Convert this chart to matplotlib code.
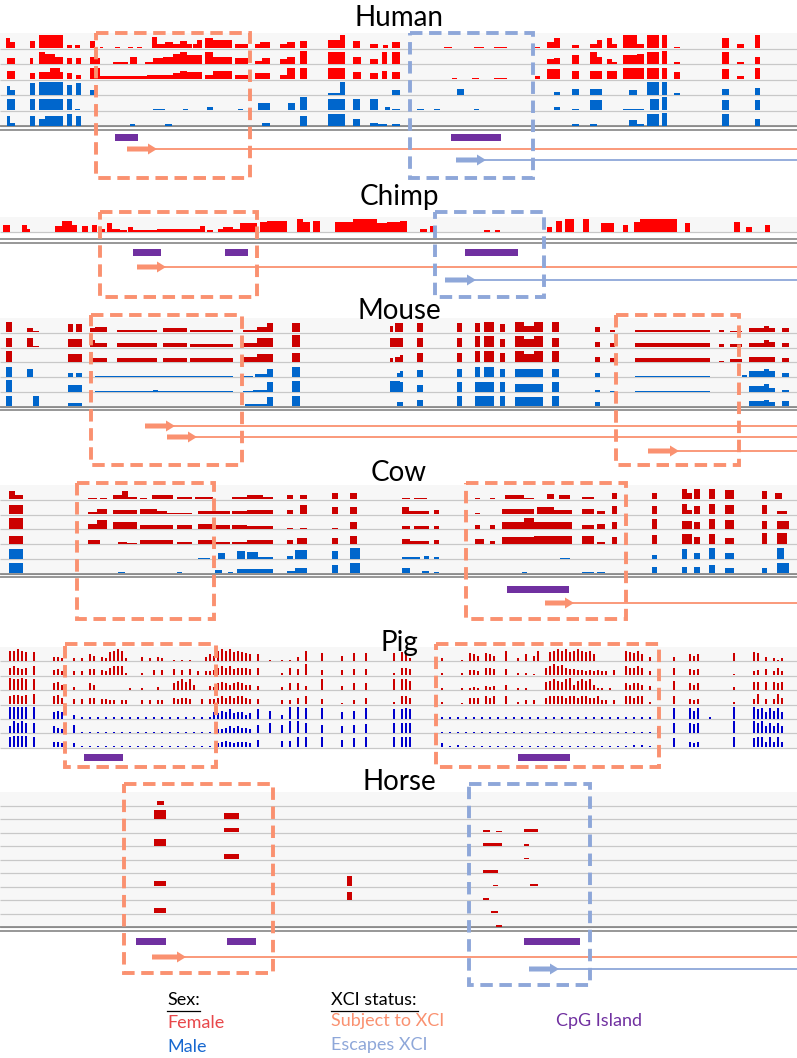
import matplotlib
matplotlib.use("Agg")
import matplotlib.pyplot as plt
from matplotlib.patches import Rectangle

# ---------------- DATA ----------------
# Track segments: "start-end:height(tenths of track height)"
HUMAN_SEX = ["F", "F", "F", "M", "M", "M"]
HUMAN_TRACKS = [
    "6-10:7 10-15:4 30-35:5 39-63:9 67-72:2 75-80:2 90-95:5 100-103:1 115-120:1 128-133:1 137-142:1 152-157:8 157-165:3 165-173:4 173-180:3 180-187:5 187-192:3 193-197:3 197-202:6 205-213:7 213-232:6 235-248:3 255-260:3 260-270:4 280-287:3 287-295:4 300-307:5 328-340:6 340-345:9 353-360:5 370-378:3 383-388:2 392-400:4 444-452:1 474-484:1 494-507:1 535-540:1 547-554:4 554-560:7 572-579:2 590-597:3 597-602:6 607-612:7 612-617:3 623-637:9 637-644:3 647-659:9 662-667:9 674-680:1 722-729:7 737-744:3 755-760:9",
    "7-15:4 30-33:4 39-45:8 45-55:7 55-63:5 67-72:4 76-81:4 90-97:5 97-100:4 113-120:1 120-128:1 130-137:5 145-153:1 153-163:4 163-173:5 173-180:7 180-187:8 187-202:6 205-213:8 213-232:5 235-248:4 255-262:2 262-270:4 280-287:3 287-295:5 300-307:9 328-345:8 353-361:5 370-378:3 382-387:8 392-400:8 547-554:3 554-560:4 572-579:6 590-597:8 597-602:5 607-612:3 612-617:1 623-637:6 637-644:7 647-659:8 662-667:9 674-680:1 722-729:8 737-744:1 755-760:5",
    "7-15:6 30-35:4 39-50:5 50-60:8 60-63:5 67-72:4 76-81:3 90-100:8 100-147:2 147-173:3 173-180:4 180-187:6 187-202:5 205-213:3 213-232:6 235-248:3 255-270:4 280-287:3 287-295:8 300-307:8 328-345:8 353-361:5 370-378:4 382-387:6 392-400:5 452-457:1 472-479:1 494-507:1 535-540:2 547-560:7 572-579:6 590-602:6 607-617:6 623-644:8 647-659:8 662-667:8 674-680:5 722-729:7 737-744:2 755-760:8",
    "7-10:6 10-15:3 30-35:8 39-63:9 67-72:7 76-81:8 90-95:3 328-340:1 340-345:9 392-400:3 457-464:4 554-560:2 572-579:4 590-602:4 629-637:3 647-659:9 662-667:9 674-680:1 722-729:4 755-760:5",
    "7-15:8 30-35:8 39-63:8 67-72:8 75-80:1 153-165:1 183-188:1 207-213:2 238-243:1 258-270:5 288-295:5 300-307:9 328-345:8 353-360:8 370-378:8 385-390:2 392-400:1 417-424:1 434-440:1 474-479:1 554-560:2 572-579:1 590-602:7 623-644:1 650-659:8 662-667:9 722-729:7 755-760:7",
    "7-10:7 10-15:2 30-35:7 39-45:5 45-63:7 67-72:8 76-81:7 130-135:1 165-172:1 262-270:2 300-307:7 328-345:8 353-360:5 370-378:2 378-387:1 392-400:1 572-579:1 590-597:1 629-637:4 637-644:1 647-659:8 662-667:9 722-729:8 755-760:5",
]

CHIMP_SEX = ["F"]
CHIMP_TRACKS = [
    "3-10:5 22-27:5 27-30:2 55-62:4 62-72:8 72-77:5 82-88:4 92-97:5 100-105:2 107-112:6 112-120:2 120-127:1 128-133:3 133-157:1 157-187:2 187-200:2 200-205:4 207-213:1 218-223:2 223-233:3 233-240:2 240-257:6 260-267:7 267-287:8 297-303:9 303-310:7 313-320:8 335-353:7 353-377:9 377-387:6 387-400:7 400-407:8 420-427:2 430-435:4 484-490:1 495-500:1 547-552:3 556-562:8 565-574:9 583-589:9 601-614:6 623-628:5 634-640:7 640-677:9 685-690:6 734-740:7 746-752:3 765-770:5",
]

MOUSE_SEX = ["F", "F", "F", "M", "M", "M"]
MOUSE_TRACKS = [
    "6-12:8 27-33:3 33-39:1 68-73:6 76-82:6 90-95:3 95-107:4 117-157:2 163-187:3 190-233:2 243-257:2 257-267:4 267-273:7 292-300:7 390-393:5 395-400:7 400-403:7 417-423:7 457-462:7 475-480:7 484-494:8 500-505:6 515-524:8 524-534:5 534-543:8 552-559:8 595-600:4 610-615:2 635-710:2 719-724:2 730-742:1 749-764:3 764-769:5 769-775:3 782-789:3",
    "6-12:7 27-33:7 33-39:1 68-82:6 90-95:5 95-107:3 117-157:3 163-187:3 190-233:2 243-257:3 257-273:7 292-300:9 390-400:7 400-403:7 417-423:7 457-462:7 475-480:8 484-494:8 500-505:6 515-524:8 524-534:6 534-543:8 552-559:7 595-600:4 610-615:3 635-710:3 719-724:2 730-742:2 749-764:3 764-769:5 769-775:4 782-789:3",
    "6-12:8 68-82:6 90-107:3 117-157:3 163-187:3 190-233:3 243-257:4 257-273:6 292-300:7 390-393:3 395-400:4 400-403:5 417-423:7 457-462:7 475-480:8 484-494:8 500-505:7 515-524:8 524-534:6 534-543:8 552-559:8 595-600:4 610-615:3 635-710:3 719-724:1 730-742:2 749-769:4 769-775:4 782-789:3",
    "6-12:7 27-33:6 68-73:3 76-82:3 95-233:0.4 240-253:0.6 255-267:2 267-273:6 292-300:7 397-400:3 400-403:4 417-423:5 457-462:6 475-480:7 484-494:7 500-505:6 515-543:6 552-559:6 595-600:3 635-710:0.4 742-747:1 749-764:4 764-769:6 769-775:4 782-789:3",
    "6-12:9 68-82:5 95-233:0.4 153-158:1 243-253:0.6 253-267:1 267-273:7 292-300:8 390-400:8 400-403:7 417-423:5 457-462:7 475-494:7 500-505:7 515-543:6 552-559:7 595-600:1 610-615:0.5 635-710:0.4 749-764:4 764-769:6 769-775:3 782-789:1.5",
    "6-12:8 33-39:8 68-82:2.5 95-233:0.4 245-255:1.5 255-267:2 267-273:7 292-300:8 397-403:3 417-423:5 457-462:8 475-494:8 500-505:8 515-543:7 552-559:8 595-600:3 635-710:0.5 749-764:4 764-769:5 769-775:3 782-789:4",
]

COW_SEX = ["F", "F", "F", "F", "M", "M"]
COW_TRACKS = [
    "9-15:6 15-23:3 88-97:1 100-107:1 113-122:3 122-128:6 128-137:2 140-147:1 152-163:3 163-173:3 177-192:2 195-213:2 217-230:0.5 232-247:2 247-263:3.5 263-273:2 287-293:3 300-307:3 332-338:5 350-357:5 402-410:1 414-427:1 475-480:1 490-495:1 505-524:3.5 524-534:1 547-554:4 559-570:3 582-594:2 612-617:5 652-657:5 682-687:8 687-692:5 694-700:8 709-715:8 725-734:7 762-767:6 775-782:5",
    "9-23:6.5 88-97:1.5 97-107:4 113-137:3 140-157:4 157-167:2.5 167-192:0.5 198-213:2.5 213-230:2 232-247:2 247-273:3 287-293:3 300-307:7 332-338:5.5 350-357:5.5 402-409:5.5 409-429:2 434-439:3 475-480:1 502-534:3.5 537-554:5.5 554-572:3 582-594:4 597-605:2 612-617:6 652-657:6 682-687:7.5 687-692:3 694-700:6 709-715:7.5 725-734:7 762-767:7 777-787:2.5",
    "9-23:8 88-97:3.5 97-107:6.5 113-137:5 140-173:3 177-192:3 198-213:3.5 213-230:3 232-247:3 247-273:2 287-293:0.5 300-307:1 332-338:1 350-357:5 402-410:2 414-429:2 434-439:2 475-480:3 490-495:3 502-524:5 524-534:8 534-572:5.5 582-594:3 597-605:4 612-617:5.5 652-657:7.5 682-692:6 694-700:5 709-715:7.5 725-734:7 762-767:6 777-789:6",
    "9-23:6 88-100:3 118-127:1 127-137:0.5 140-173:2.5 177-192:1 198-213:2.5 213-230:1.5 232-247:1.5 247-273:3 287-293:3 297-307:4 332-338:4.5 350-357:5.5 402-410:3.5 410-429:2 434-439:3 475-484:3.5 490-495:2 502-534:5 534-572:6 582-594:6 597-605:1 612-617:5 652-657:6.5 682-692:7 694-700:5 709-715:7 725-734:4.5 762-767:8 777-787:8",
    "9-23:7.5 198-210:0.5 218-225:4 237-245:6 247-258:5 258-273:1.5 287-293:2 295-307:6.5 332-338:5.5 350-360:8 402-410:1.5 410-420:1.5 424-429:2 434-439:1.5 560-570:0.5 652-657:3 682-687:7.5 694-700:4.5 709-715:8 725-734:4 777-784:8",
    "9-23:7.5 118-125:1 177-182:1 203-210:0.5 215-222:2.5 228-233:1 237-273:3.5 287-295:2 295-307:4 332-338:6 350-360:8 402-410:4 422-429:1.5 434-439:1 475-480:0.5 502-507:0.5 522-527:1 582-594:1 597-605:1 612-617:0.5 652-657:5 682-687:5 694-700:4.5 709-715:6 725-734:4 762-767:4 777-789:8",
]

# Pig: one character per 4-unit bin, '.' = empty, digit = height in tenths
PIG_SEX = ["F", "F", "F", "F", "M", "M", "M"]
PIG_TRACKS = [
    "..88987.7. ...332..2. 2.54.32789 82...3.2.3 2..1.1.1.. .354898978 765.5..1.. 1.1.3.8... 6....4..6. .6......6. 762....... 2....1.654 .654..8..2 .5.48..789 897898785. ......8768 5.3.....3. ..545..... ...6....76 .3.212....",
    "..67656.7. ...453..3. 3.55.43677 72...2..4. 4..5.4.5.3 .334676756 665.6..... 2.6.5.9... 4....4..5. .5......2. 665....... 2....2.443 .665..5..2 .2.1..6797 8655443434 33.4..7667 6.3.....6. ..545..... ...1....34 .5.363....",
    "..98898.8. ...564..2. ..54...... ..1..1...2 ...578684. ..32565456 544.3..... 2.5.5.3... 8....3..5. .5......8. 887....... 1....1.121 .323..4..1 .1....6787 6894787841 1.1...5455 4.3.....7. ..545..... ...2....66 .6.656....",
    "..67767.8. ...675..4. 4.55.4433. 33...3.3.3 3..54554.. 4.44565656 654.4..... 3.3.5.6... 4....1..3. .5......2. 665....... 2....1.555 .656..6..2 .3.3..5666 6566566556 33.3..6656 6.2.....6. ..434..... ...2....48 .4.485....",
    "..99999.9. ...565..3. 1.1.1.1.1. 1.1.1.1.1. 1.1.1.1.1. 1.15465745 534.7..6.. 3.9.9.8... 8....5..6. .8......7. 787....... 1.1.1.1.1. 1.1.1.1.1. 1.1.1.1.1. 1.1.1.1.1. 1.1.1.1.1. 1.1.....8. ..868..1.. ...9....97 858685....",
    "..59898.8. ...543..6. 1.1.1.1.1. 1.1.1.1.1. 1.1.1.1.1. 1.1.334545 443.6..8.. 6.9.9.8... 6....5..6. .7......8. 888....... 1.1.1.1.1. 1.1.1.1.1. 1.1.1.1.1. 1.1.1.1.1. 1.1.1.1.1. 1.1.4...8. ..878..... ...9....98 958585....",
    "..89999.8. ...443..3. 1.1.1.1.1. 1.1.1.1.1. 1.1.1.1.1. 1.1.345434 443.6..... 5.5.8.8... 8....6..7. .8......8. 888....... 3.1.2.1.1. 1.1.1.1.1. 1.1.1.1.1. 1.1.1.1.1. 1.1.1.1.2. 2.1.....7. ..434..... ...8....78 848484....",
]

# Horse: (row, start, end, height fraction)
HORSE_ROWS = 10
HORSE_MARKS = [
    (0, 157, 164, 0.3), (1, 154, 166, 0.7), (1, 224, 239, 0.45), (2, 224, 239, 0.3),
    (3, 154, 166, 0.55), (4, 224, 239, 0.4), (6, 154, 166, 0.45), (6, 347, 352, 0.8),
    (7, 347, 352, 0.6), (8, 154, 166, 0.45), (2, 483, 490, 0.2), (2, 496, 502, 0.1),
    (2, 524, 538, 0.25), (3, 483, 502, 0.25), (3, 524, 529, 0.15), (4, 524, 529, 0.12),
    (5, 483, 498, 0.2), (6, 493, 498, 0.05), (6, 530, 538, 0.15), (7, 483, 489, 0.15),
    (8, 491, 498, 0.2), (9, 496, 502, 0.15),
]

# Regions: (start, end, status)  S = subject to XCI, E = escapes XCI
BOXES = {
    "Human": [(96, 250, "S"), (410, 533, "E")],
    "Chimp": [(100, 257, "S"), (435, 544, "E")],
    "Mouse": [(91, 242, "S"), (616, 739, "S")],
    "Cow":   [(77, 214, "S"), (466, 626, "S")],
    "Pig":   [(65, 216, "S"), (436, 659, "S")],
    "Horse": [(124, 273, "S"), (469, 590, "E")],
}
CPG = {
    "Human": [(115, 138), (451, 501)],
    "Chimp": [(133, 161), (225, 248), (465, 518)],
    "Mouse": [],
    "Cow":   [(507, 569)],
    "Pig":   [(84, 123), (518, 570)],
    "Horse": [(136, 166), (227, 256), (524, 580)],
}
# Genes: (start, end of arrow, status)
GENES = {
    "Human": [(127, 157, "S"), (456, 486, "E")],
    "Chimp": [(137, 166, "S"), (445, 476, "E")],
    "Mouse": [(145, 175, "S"), (167, 197, "S"), (648, 679, "S")],
    "Cow":   [(545, 574, "S")],
    "Pig":   [],
    "Horse": [(152, 186, "S"), (529, 559, "E")],
}
SPECIES = ["Human", "Chimp", "Mouse", "Cow", "Pig", "Horse"]

# ---------------- LAYOUT / STYLE ----------------
W, H = 797, 1058
LAYOUT = {
    "Human": dict(title=18, top=33, rowh=15.5, dbl=(126, 129.5), box={"S": (33, 178), "E": (33, 178)}, cpg=137, lanes=[149, 160]),
    "Chimp": dict(title=197, top=217, rowh=15, dbl=(239, 242.5), box={"S": (212, 297), "E": (212, 297)}, cpg=252, lanes=[267, 280]),
    "Mouse": dict(title=311, top=318, rowh=14.8, dbl=(407, 410), box={"S": (315, 465)}, cpg=None, lanes=[426, 437, 451]),
    "Cow":   dict(title=473, top=485, rowh=14.8, dbl=(574, 577), box={"S": (483, 619)}, cpg=589, lanes=[603]),
    "Pig":   dict(title=643, top=647, rowh=14.4, dbl=None, box={"S": (644, 767)}, cpg=757, lanes=[]),
    "Horse": dict(title=782, top=792, rowh=13.5, dbl=(927, 931), box={"S": (784, 973), "E": (784, 985)}, cpg=941, lanes=[957, 969]),
}
RED = {"Human": "#ff0000", "Chimp": "#ff0000", "Mouse": "#cc0000", "Cow": "#cc0000", "Pig": "#cc0000", "Horse": "#cc0000"}
BLUE = {"Human": "#0066cc", "Mouse": "#0066cc", "Cow": "#0066cc", "Pig": "#0000cc"}
ORANGE = "#fa9170"
LBLUE = "#8ea7d9"
PURPLE = "#7030a0"
BG = "#f7f7f7"
SEP = "#c8c8c8"
DBL = "#7a7a7a"
FONT = "Lato"

fig = plt.figure(figsize=(W / 100, H / 100), dpi=100)
ax = fig.add_axes([0, 0, 1, 1])
ax.set_xlim(0, W)
ax.set_ylim(H, 0)
ax.axis("off")


def parse(s):
    out = []
    for tok in s.split():
        rng, h = tok.split(":")
        a, b = rng.split("-")
        out.append((float(a), float(b), float(h) / 10.0))
    return out


def draw_bg(lay, nrows):
    top, rh = lay["top"], lay["rowh"]
    ax.add_patch(Rectangle((0, top), W, nrows * rh, color=BG, lw=0, zorder=0))
    for i in range(nrows):
        ax.hlines(top + (i + 1) * rh, 0, W, color=SEP, lw=0.9, zorder=1)
    if lay["dbl"]:
        for y in lay["dbl"]:
            ax.hlines(y, 0, W, color=DBL, lw=1.1, zorder=1)


def draw_segments(sp, tracks, sexes):
    lay = LAYOUT[sp]
    top, rh = lay["top"], lay["rowh"]
    draw_bg(lay, len(tracks))
    for i, (tr, sx) in enumerate(zip(tracks, sexes)):
        base = top + (i + 1) * rh - 0.5
        seg = parse(tr)
        xs = [a for a, b, h in seg]
        ws = [b - a for a, b, h in seg]
        hs = [-h * (rh - 1.5) for a, b, h in seg]
        col = RED[sp] if sx == "F" else BLUE[sp]
        ax.bar(xs, hs, width=ws, bottom=base, align="edge", color=col, lw=0, zorder=2)


def draw_pig():
    sp = "Pig"
    lay = LAYOUT[sp]
    top, rh = lay["top"], lay["rowh"]
    draw_bg(lay, len(PIG_TRACKS))
    for i, (tr, sx) in enumerate(zip(PIG_TRACKS, PIG_SEX)):
        s = tr.replace(" ", "")
        base = top + (i + 1) * rh - 0.5
        xs, hs = [], []
        for k, c in enumerate(s):
            if c != ".":
                xs.append(k * 4 + 1)
                hs.append(-int(c) / 10.0 * (rh - 1.5))
        col = RED[sp] if sx == "F" else BLUE[sp]
        ax.bar(xs, hs, width=1.7, bottom=base, align="edge", color=col, lw=0, zorder=2)


def draw_horse():
    sp = "Horse"
    lay = LAYOUT[sp]
    top, rh = lay["top"], lay["rowh"]
    draw_bg(lay, HORSE_ROWS)
    xs = [m[1] for m in HORSE_MARKS]
    ws = [m[2] - m[1] for m in HORSE_MARKS]
    bases = [top + (m[0] + 1) * rh - 0.5 for m in HORSE_MARKS]
    hs = [-m[3] * (rh - 1.5) for m in HORSE_MARKS]
    ax.bar(xs, hs, width=ws, bottom=bases, align="edge", color=RED[sp], lw=0, zorder=2)


draw_segments("Human", HUMAN_TRACKS, HUMAN_SEX)
draw_segments("Chimp", CHIMP_TRACKS, CHIMP_SEX)
draw_segments("Mouse", MOUSE_TRACKS, MOUSE_SEX)
draw_segments("Cow", COW_TRACKS, COW_SEX)
draw_pig()
draw_horse()

for sp in SPECIES:
    lay = LAYOUT[sp]
    ax.text(399, lay["title"], sp, ha="center", va="center", fontsize=20, family=FONT, color="black", zorder=6)
    for a, b in CPG[sp]:
        ax.add_patch(Rectangle((a, lay["cpg"] - 3.5), b - a, 7, color=PURPLE, lw=0, zorder=4))
    for k, (a, b, st) in enumerate(GENES[sp]):
        y = lay["lanes"][k]
        col = ORANGE if st == "S" else LBLUE
        ax.plot([b - 2, W], [y, y], color=col, lw=1.3, zorder=3, solid_capstyle="butt")
        ax.arrow(a, y, b - a, 0, width=5, head_width=11, head_length=9,
                 length_includes_head=True, color=col, lw=0, zorder=4)
    for a, b, st in BOXES[sp]:
        y0, y1 = lay["box"][st]
        col = ORANGE if st == "S" else LBLUE
        ax.add_patch(Rectangle((a, y0), b - a, y1 - y0, fill=False, ec=col, lw=2.8,
                               ls=(0, (3.2, 1.7)), zorder=5))

# ---------------- LEGEND ----------------
LFS = 13
ax.text(167, 1000, "Sex:", ha="left", va="center", fontsize=LFS, family=FONT, color="black")
ax.plot([167, 200], [1011, 1011], color="black", lw=0.9)
ax.text(167, 1023, "Female", ha="left", va="center", fontsize=LFS, family=FONT, color="#e8474a")
ax.text(167, 1047, "Male", ha="left", va="center", fontsize=LFS, family=FONT, color="#1768d0")
ax.text(331, 1000, "XCI status:", ha="left", va="center", fontsize=LFS, family=FONT, color="black")
ax.plot([331, 418], [1011, 1011], color="black", lw=0.9)
ax.text(331, 1021, "Subject to XCI", ha="left", va="center", fontsize=LFS, family=FONT, color=ORANGE)
ax.text(331, 1045, "Escapes XCI", ha="left", va="center", fontsize=LFS, family=FONT, color=LBLUE)
ax.text(556, 1021, "CpG Island", ha="left", va="center", fontsize=LFS, family=FONT, color=PURPLE)

fig.savefig("out.png", dpi=100, facecolor="white")
